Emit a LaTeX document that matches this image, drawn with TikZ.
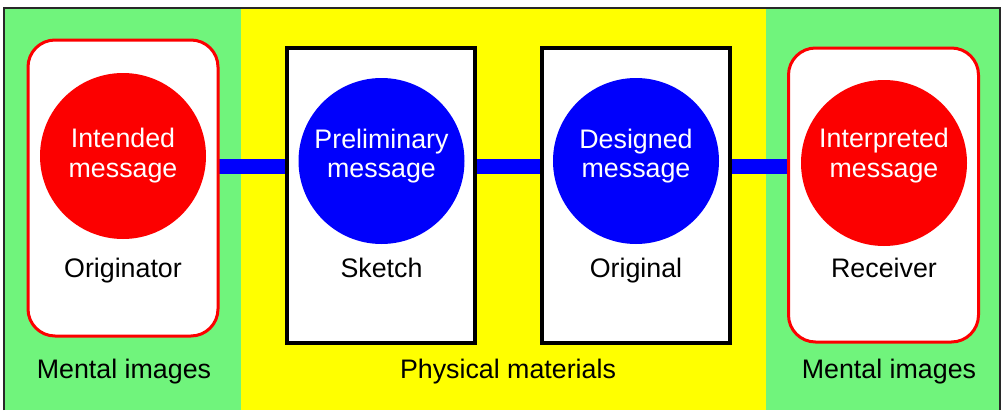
\documentclass[tikz,border=0pt]{standalone}
\usepackage{fontspec}
\setmainfont{Liberation Sans}
\definecolor{mindgreen}{RGB}{112,244,124}
\definecolor{matyellow}{RGB}{255,255,0}
\definecolor{msgred}{RGB}{252,0,0}
\definecolor{msgblue}{RGB}{0,0,252}
\definecolor{frame}{RGB}{40,40,40}
\tikzset{
  mindbox/.style={draw=msgred, line width=3pt, fill=white, rounded corners=27pt,
    minimum width=190pt, minimum height=296pt, inner sep=0pt},
  paperbox/.style={draw=black, line width=4pt, fill=white,
    minimum width=188pt, minimum height=295pt, inner sep=0pt},
  mindmsg/.style={circle, fill=msgred, minimum size=166pt, inner sep=0pt},
  papermsg/.style={mindmsg, fill=msgblue},
  caption/.style={font=\fontsize{26.8}{31}\selectfont, inner sep=0pt, anchor=base},
  msgtext/.style={caption, text=white},
  link/.style={msgblue, line width=15pt}
}
\begin{document}
\begin{tikzpicture}[x=1pt,y=-1pt]
\useasboundingbox (0,0) rectangle (1002,410);
% background regions
\fill[white] (0,0) rectangle (1002,410);
\fill[mindgreen] (4,8) rectangle (241,410);
\fill[matyellow] (241,8) rectangle (766,410);
\fill[mindgreen] (766,8) rectangle (1000,410);
\draw[frame, line width=2pt] (4,410) -- (4,8) -- (1000,8) -- (1000,410);

% links drawn first so the boxes sit on top
\coordinate (l1a) at (218,166);
\coordinate (l1b) at (288,166);
\coordinate (l2a) at (474,166);
\coordinate (l2b) at (543,166);
\coordinate (l3a) at (729,166);
\coordinate (l3b) at (789,166);
\draw[link] (l1a) -- (l1b);
\draw[link] (l2a) -- (l2b);
\draw[link] (l3a) -- (l3b);

% boxes
\node[mindbox] (origbox) at (123,188) {};
\node[paperbox] (sketchbox) at (381,195.5) {};
\node[paperbox] (origlbox) at (636,195.5) {};
\node[mindbox, minimum height=294pt] (recvbox) at (883.5,195) {};

% messages
\node[mindmsg] (intended) at (123,156) {};
\node[papermsg] (prelim) at (381.5,161) {};
\node[papermsg] (designed) at (636,161) {};
\node[mindmsg] (interp) at (884,163) {};

\node[msgtext] (intendedA) at (123,147.5) {Intended};
\node[msgtext] (intendedB) at (123,177) {message};
\node[msgtext] (prelimA) at (381.5,148) {Preliminary};
\node[msgtext] (prelimB) at (381.5,177) {message};
\node[msgtext] (designedA) at (636,148) {Designed};
\node[msgtext] (designedB) at (636,177) {message};
\node[msgtext] (interpA) at (884,147.5) {Interpreted};
\node[msgtext] (interpB) at (884,177) {message};

% box labels
\node[caption] (originator) at (123,277) {Originator};
\node[caption] (sketch) at (381.5,277) {Sketch};
\node[caption] (original) at (636,277) {Original};
\node[caption] (receiver) at (884,277) {Receiver};

% region labels
\node[caption] (mentalL) at (124,378) {Mental images};
\node[caption] (physical) at (508,378) {Physical materials};
\node[caption] (mentalR) at (889,378) {Mental images};
\end{tikzpicture}
\end{document}
